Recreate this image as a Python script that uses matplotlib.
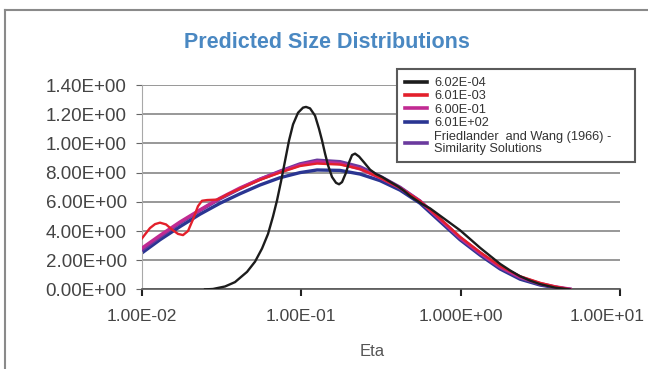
import matplotlib
matplotlib.use("Agg")
import matplotlib.pyplot as plt
from matplotlib.ticker import FixedLocator, FixedFormatter, NullLocator
from matplotlib.patches import Rectangle
from matplotlib.lines import Line2D
from matplotlib.transforms import ScaledTranslation

plt.rcParams['font.family'] = ['Liberation Sans', 'DejaVu Sans']

# ---------------- data ----------------
title = "Predicted Size Distributions"
x_label = "Eta"

x_ticks = [0.01, 0.1, 1.0, 10.0]
x_tick_labels = ["1.00E-02", "1.00E-01", "1.000E+00", "1.00E+01"]
y_ticks = [0.0, 0.2, 0.4, 0.6, 0.8, 1.0, 1.2, 1.4]
y_tick_labels = ["0.00E+00", "2.00E+00", "4.00E+00", "6.00E+00",
                 "8.00E+00", "1.00E+00", "1.20E+00", "1.40E+00"]

series_names = ["6.02E-04", "6.01E-03", "6.00E-01", "6.01E+02",
                "Friedlander  and Wang (1966) -\nSimilarity Solutions"]

# shared eta grid for the smooth curves
eta_smooth = [0.0100, 0.01297, 0.01732, 0.02312, 0.03087, 0.04121, 0.05502,
              0.07345, 0.09806, 0.1255, 0.1750, 0.2335, 0.3119, 0.4164,
              0.5559, 0.7424, 0.9913, 1.324, 1.767, 2.360, 3.151, 3.914, 4.862]

# 6.00E-01 (magenta)
y_600em1 = [0.283, 0.37, 0.462, 0.545, 0.625, 0.695, 0.755, 0.805, 0.852,
            0.875, 0.862, 0.825, 0.765, 0.695, 0.605, 0.48, 0.355, 0.25,
            0.155, 0.085, 0.04, 0.018, 0.002]

# 6.01E+02 (blue)
y_601ep2 = [0.25, 0.34, 0.43, 0.515, 0.59, 0.655, 0.715, 0.765, 0.80,
            0.818, 0.815, 0.79, 0.745, 0.68, 0.59, 0.465, 0.34, 0.235,
            0.14, 0.07, 0.03, 0.012, 0.0]

# Friedlander and Wang (1966) similarity solution (purple)
y_fw = [0.27, 0.36, 0.455, 0.54, 0.62, 0.69, 0.755, 0.81, 0.86,
        0.885, 0.875, 0.84, 0.775, 0.70, 0.605, 0.48, 0.35, 0.245,
        0.15, 0.08, 0.035, 0.015, 0.0]

# 6.01E-03 (red)
eta_601em3 = [0.0100, 0.01122, 0.01207, 0.01297, 0.01415, 0.01543, 0.01683,
              0.01809, 0.01945, 0.02090, 0.02246, 0.02379, 0.02559, 0.02957,
              0.03178, 0.03417, 0.04121, 0.05502, 0.07345, 0.09806, 0.1255,
              0.1750, 0.2335, 0.3119, 0.4164, 0.5559, 0.7424, 0.9913, 1.324,
              1.767, 2.360, 3.151, 3.914, 4.862]
y_601em3 = [0.35, 0.42, 0.447, 0.457, 0.445, 0.41, 0.38, 0.372, 0.40, 0.48,
            0.57, 0.607, 0.612, 0.615, 0.63, 0.65, 0.69, 0.75, 0.80, 0.845,
            0.862, 0.855, 0.825, 0.765, 0.695, 0.605, 0.485, 0.36, 0.255,
            0.16, 0.09, 0.045, 0.02, 0.0]

# 6.02E-04 (black)
eta_602em4 = [0.02487, 0.02791, 0.03319, 0.03835, 0.04562, 0.05121, 0.05666,
              0.06180, 0.06642, 0.07038, 0.07457, 0.07901, 0.08371, 0.08870,
              0.09535, 0.1025, 0.1070, 0.1134, 0.1219, 0.1291, 0.1349, 0.1409,
              0.1471, 0.1558, 0.1651, 0.1725, 0.1801, 0.1908, 0.1993, 0.2081,
              0.2174, 0.2303, 0.2475, 0.2700, 0.2944, 0.3211, 0.3503, 0.3764,
              0.4046, 0.4413, 0.4812, 0.5248, 0.5725, 0.6427, 0.7424, 0.8581,
              0.9913, 1.146, 1.324, 1.529, 1.767, 2.042, 2.360, 2.727, 3.151,
              3.914, 4.862]
y_602em4 = [0.0, 0.003, 0.02, 0.05, 0.12, 0.19, 0.28, 0.38, 0.50, 0.61, 0.74,
            0.88, 1.02, 1.13, 1.21, 1.245, 1.25, 1.24, 1.19, 1.10, 1.02, 0.93,
            0.85, 0.77, 0.73, 0.72, 0.735, 0.80, 0.87, 0.92, 0.93, 0.91, 0.87,
            0.82, 0.79, 0.77, 0.745, 0.725, 0.705, 0.675, 0.64, 0.612, 0.585,
            0.555, 0.505, 0.455, 0.405, 0.345, 0.285, 0.23, 0.175, 0.13, 0.09,
            0.06, 0.036, 0.012, 0.0]

# ---------------- figure ----------------
W, H = 648, 369
fig = plt.figure(figsize=(W / 100, H / 100), dpi=100)
fig.patch.set_facecolor('white')

ax = fig.add_axes([142 / W, 1 - 289.4 / H, (620 - 142) / W, (289.4 - 85) / H])

l_black, = ax.plot(eta_602em4, y_602em4, color='#1c1c1c', lw=1.7, zorder=6)
l_red, = ax.plot(eta_601em3, y_601em3, color='#e3202b', lw=1.7, zorder=5)
l_mag, = ax.plot(eta_smooth, y_600em1, color='#c12a92', lw=2.4, zorder=4)
l_blue, = ax.plot(eta_smooth, y_601ep2, color='#2a3592', lw=2.4, zorder=2)
l_pur, = ax.plot(eta_smooth, y_fw, color='#6b3a9e', lw=2.4, zorder=3)

ax.set_xscale('log')
ax.set_xlim(x_ticks[0], x_ticks[-1])
ax.set_ylim(y_ticks[0], y_ticks[-1])

ax.xaxis.set_major_locator(FixedLocator(x_ticks))
ax.xaxis.set_major_formatter(FixedFormatter(x_tick_labels))
ax.xaxis.set_minor_locator(NullLocator())
ax.yaxis.set_major_locator(FixedLocator(y_ticks))
ax.yaxis.set_major_formatter(FixedFormatter(y_tick_labels))

ax.yaxis.grid(True, color='#7c7c7c', lw=1.1, zorder=1)
ax.set_axisbelow(True)

for s in ['top', 'right']:
    ax.spines[s].set_visible(False)
ax.spines['left'].set_color('#a8a8a8')
ax.spines['left'].set_linewidth(0.8)
ax.spines['bottom'].set_color('#555555')
ax.spines['bottom'].set_linewidth(1.2)

ax.tick_params(axis='y', length=4, width=0.8, color='#666666', pad=7,
               labelsize=13.5, labelcolor='#444444')
ax.tick_params(axis='x', length=5, width=1.5, color='#222222', pad=9,
               labelsize=12.5, labelcolor='#444444')

# keep the last x tick label inside the figure
fig.canvas.draw()
last_lbl = ax.get_xticklabels()[-1]
last_lbl.set_transform(last_lbl.get_transform() +
                       ScaledTranslation(-13 / 100, 0, fig.dpi_scale_trans))

# legend frame (figure coordinates)
frame = Rectangle((397 / W, 1 - 162 / H), (635 - 397) / W, (162 - 69) / H,
                  transform=fig.transFigure, facecolor='white',
                  edgecolor='#5a5a5a', lw=1.5, zorder=4.6, clip_on=False)
ax.add_artist(frame)

leg = ax.legend([l_black, l_red, l_mag, l_blue, l_pur], series_names,
                loc='upper left', bbox_to_anchor=(405 / W, 1 - 77 / H),
                bbox_transform=fig.transFigure, frameon=False,
                prop={'size': 9.2}, handlelength=1.7, handletextpad=0.6,
                labelspacing=0.11, borderpad=0, borderaxespad=0)
leg.set_zorder(7)
for t in leg.get_texts():
    t.set_linespacing(1.08)
    t.set_color('#333333')
for h in leg.get_lines():
    h.set_linewidth(2.6)

# title and axis label
fig.text(327 / W, 1 - 42 / H, title, ha='center', va='center',
         fontsize=15.5, fontweight='bold', color='#4a88c2')
fig.text(372 / W, 1 - 352 / H, x_label, ha='center', va='center',
         fontsize=12, color='#555555')

# outer chart border
fig.add_artist(Line2D([5 / W, 5 / W], [0, 1 - 10 / H], transform=fig.transFigure,
                      color='#8a8a8a', lw=1.5))
fig.add_artist(Line2D([5 / W, 1], [1 - 10 / H, 1 - 10 / H], transform=fig.transFigure,
                      color='#8a8a8a', lw=1.5))

fig.savefig('out.png', dpi=100)
